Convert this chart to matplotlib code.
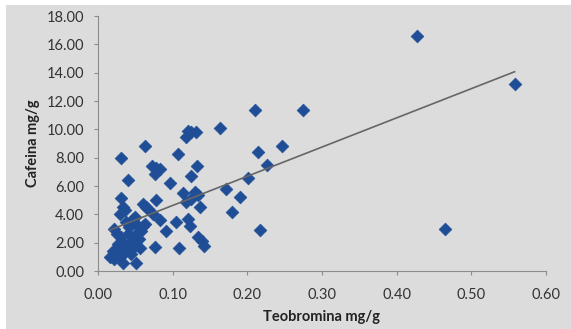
import matplotlib
matplotlib.use("Agg")
import matplotlib.pyplot as plt
import numpy as np
from matplotlib.patches import Rectangle

# Teobromina (x) and Cafeina (y), mg/g
teobromina = [
    0.427, 0.558, 0.465, 0.211, 0.275, 0.164, 0.118, 0.120, 0.125, 0.131,
    0.063, 0.247, 0.215, 0.031, 0.107, 0.227, 0.132, 0.072, 0.078, 0.083,
    0.077, 0.125, 0.201, 0.040, 0.096, 0.172, 0.031, 0.078, 0.190, 0.114,
    0.130, 0.134, 0.124, 0.118, 0.136, 0.179, 0.060, 0.064, 0.067, 0.074,
    0.034, 0.029, 0.036, 0.047, 0.051, 0.083, 0.105, 0.121, 0.123, 0.063,
    0.021, 0.217, 0.091, 0.134, 0.139, 0.142, 0.077, 0.108,
    0.020, 0.016, 0.022, 0.027, 0.034, 0.051, 0.040, 0.045, 0.038, 0.047,
    0.056, 0.031, 0.051, 0.042, 0.027, 0.058, 0.025, 0.030, 0.035, 0.044,
    0.050, 0.055, 0.033, 0.026, 0.050, 0.038, 0.060,
]
cafeina = [
    16.6, 13.2, 3.0, 11.35, 11.4, 10.1, 9.5, 9.9, 9.8, 9.85,
    8.8, 8.85, 8.4, 7.95, 8.25, 7.5, 7.45, 7.45, 7.3, 7.2,
    6.85, 6.7, 6.55, 6.4, 6.2, 5.8, 5.15, 5.05, 5.2, 5.5,
    5.6, 5.35, 5.1, 4.85, 4.5, 4.15, 4.75, 4.55, 4.4, 4.05,
    4.5, 4.05, 4.3, 3.7, 3.35, 3.6, 3.45, 3.7, 3.2, 3.3,
    2.95, 2.9, 2.85, 2.4, 2.1, 1.8, 1.7, 1.6,
    1.45, 1.0, 0.85, 1.2, 0.55, 0.6, 2.65, 2.15, 1.7, 1.6,
    1.6, 2.4, 2.65, 3.1, 1.9, 2.85, 1.5, 1.0, 1.3, 1.2,
    2.0, 2.3, 2.0, 2.6, 3.8, 3.5, 3.2,
]

x_ticks = [0.0, 0.1, 0.2, 0.3, 0.4, 0.5, 0.6]
y_ticks = [0, 2, 4, 6, 8, 10, 12, 14, 16, 18]

plt.rcParams["font.family"] = ["Lato", "DejaVu Sans"]

bg = "#dcdcdc"
fig = plt.figure(figsize=(5.71, 3.29), dpi=100, facecolor="white")
# grey chart area with a thin white margin on the top and left
fig.patches.append(Rectangle((6 / 571, 0), 1, 1 - 5 / 329, transform=fig.transFigure,
                             facecolor=bg, edgecolor="none", zorder=-1))
ax = fig.add_axes([0.1716, 0.176, 0.7844, 0.775])
ax.set_facecolor(bg)

ax.scatter(teobromina, cafeina, marker="D", s=42, color="#1f4e96",
           edgecolors="#1f4e96", linewidths=0.5, zorder=3)

# linear trend line over the data range
x = np.array(teobromina)
slope, intercept = np.polyfit(x, np.array(cafeina), 1)
tx = np.array([x.min(), x.max()])
ax.plot(tx, slope * tx + intercept, color="#666666", lw=1.2, zorder=4)

ax.set_xlim(0, 0.6)
ax.set_ylim(0, 18)
ax.set_xticks(x_ticks)
ax.set_yticks(y_ticks)
ax.set_xticklabels([f"{v:.2f}" for v in x_ticks])
ax.set_yticklabels([f"{v:.2f}" for v in y_ticks])

for side in ("top", "right"):
    ax.spines[side].set_visible(False)
for side in ("left", "bottom"):
    ax.spines[side].set_color("#8c8c8c")
ax.tick_params(colors="#8c8c8c", length=3, labelcolor="#333333", labelsize=10.5)
ax.tick_params(axis="x", pad=9)
ax.tick_params(axis="y", pad=7)

ax.set_xlabel("Teobromina mg/g", fontsize=10.5, fontweight="bold", color="#222222")
ax.set_ylabel("Cafeina mg/g", fontsize=10.5, fontweight="bold", color="#222222")
ax.xaxis.set_label_coords(0.5, -0.153)
ax.yaxis.set_label_coords(-0.129, 0.5)

fig.savefig("out.png", dpi=100, facecolor="white")
